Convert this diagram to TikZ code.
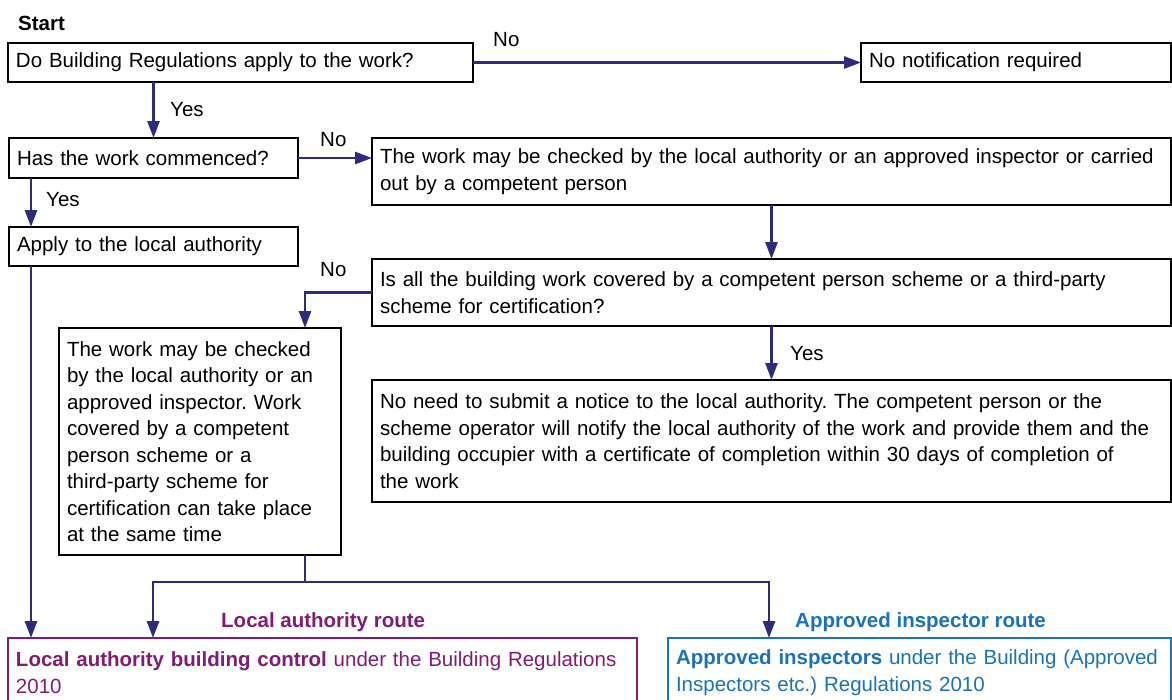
\documentclass[tikz,border=0pt]{standalone}
\usepackage{fontspec}
\setmainfont{Liberation Sans}
\usetikzlibrary{arrows.meta,calc}

\definecolor{flowline}{RGB}{46,43,124}
\definecolor{lapurple}{RGB}{128,28,116}
\definecolor{aiblue}{RGB}{26,114,185}

\newcommand{\boxfont}{\fontsize{20.5}{26.5}\selectfont}
\frenchspacing

\begin{document}
\begin{tikzpicture}[x=1pt, y=-1pt,
	box/.style={draw, line width=2.8pt, anchor=north west, outer sep=0pt,
		inner xsep=8pt, inner ysep=0pt, align=left, font=\boxfont},
	lbl/.style={anchor=base west, inner sep=0pt, font=\boxfont},
	flow/.style={draw=flowline, line width=2.8pt, -{Triangle[length=17pt,width=12pt]}},
	flowplain/.style={draw=flowline, line width=2.8pt}]

	\useasboundingbox (0,0) rectangle (1172,699);
	\clip (0,0) rectangle (1172,699);

	\node [lbl, font=\boxfont\bfseries] (start) at (18,30) {Start};

	\node [box, text width=449pt, minimum height=39pt] (q1) at (8,43) {Do Building Regulations apply to the work?};
	\node [box, text width=294pt, minimum height=39pt] (nonote) at (861,43) {No notification required};
	\draw [flow] (q1.east) -- (nonote.west);
	\node [lbl] (no1) at (493,46) {No};

	\node [box, text width=273pt, minimum height=40pt] (q2) at (9,138) {Has the work commenced?};
	\draw [flow] (q1.south -| q2.north) -- (q2.north);
	\node [lbl] (yes1) at (170,116) {Yes};

	\node [box, text width=783pt, minimum height=67pt] (work) at (372,138) {The work may be checked by the local authority or an approved inspector or carried\\out by a competent person};
	\draw [flow] (q2.east) -- (q2.east -| work.west);
	\node [lbl] (no2) at (320,146) {No};

	\node [box, text width=273pt, minimum height=39pt] (apply) at (9,227) {Apply to the local authority};
	\draw [flow] ([xshift=22pt]q2.south west) -- ([xshift=22pt]apply.north west);
	\node [lbl] (yes2) at (46,206) {Yes};

	\node [box, text width=783pt, minimum height=67pt] (q3) at (372,259) {Is all the building work covered by a competent person scheme or a third-party\\scheme for certification?};
	\draw [flow] (work.south) -- (q3.north);

	\node [box, text width=266pt, minimum height=227pt] (checked) at (59,328) {The work may be checked\\by the local authority or an\\approved inspector. Work\\covered by a competent\\person scheme or a\\third-party scheme for\\certification can take place\\at the same time};
	\coordinate (chkin) at ([xshift=-36pt]checked.north east);
	\draw [flow] (q3.west) -| (chkin);
	\node [lbl] (no3) at (320,276) {No};

	\node [box, text width=783pt, minimum height=122pt] (noneed) at (372,380) {No need to submit a notice to the local authority. The competent person or the\\scheme operator will notify the local authority of the work and provide them and the\\building occupier with a certificate of completion within 30 days of completion of\\the work};
	\draw [flow] (q3.south) -- (noneed.north);
	\node [lbl] (yes3) at (790,360) {Yes};

	\node [box, draw=lapurple, text=lapurple, text width=613pt, minimum height=69pt] (labc) at (8,638) {\textbf{Local authority building control} under the Building Regulations\\2010};
	\node [box, draw=aiblue, text=aiblue, text width=487pt, minimum height=69pt] (ainsp) at (668,638) {\textbf{Approved inspectors} under the Building (Approved\\Inspectors etc.) Regulations 2010};

	\coordinate (ldown) at ([xshift=22pt]apply.south west);
	\draw [flow] (ldown) -- (ldown |- labc.north);

	\coordinate (chkout) at ([xshift=-36pt]checked.south east);
	\coordinate (split) at ($(chkout)+(0,27)$);
	\coordinate (lroute) at (153,582);
	\coordinate (aroute) at (769,582);
	\draw [flowplain] (chkout) -- (split);
	\draw [flow] (split) -| (lroute |- labc.north);
	\draw [flow] (split) -| (aroute |- ainsp.north);

	\node [lbl, font=\boxfont\bfseries, text=lapurple] (laroute) at (221,627) {Local authority route};
	\node [lbl, font=\boxfont\bfseries, text=aiblue] (airoute) at (795,627) {Approved inspector route};
\end{tikzpicture}
\end{document}
